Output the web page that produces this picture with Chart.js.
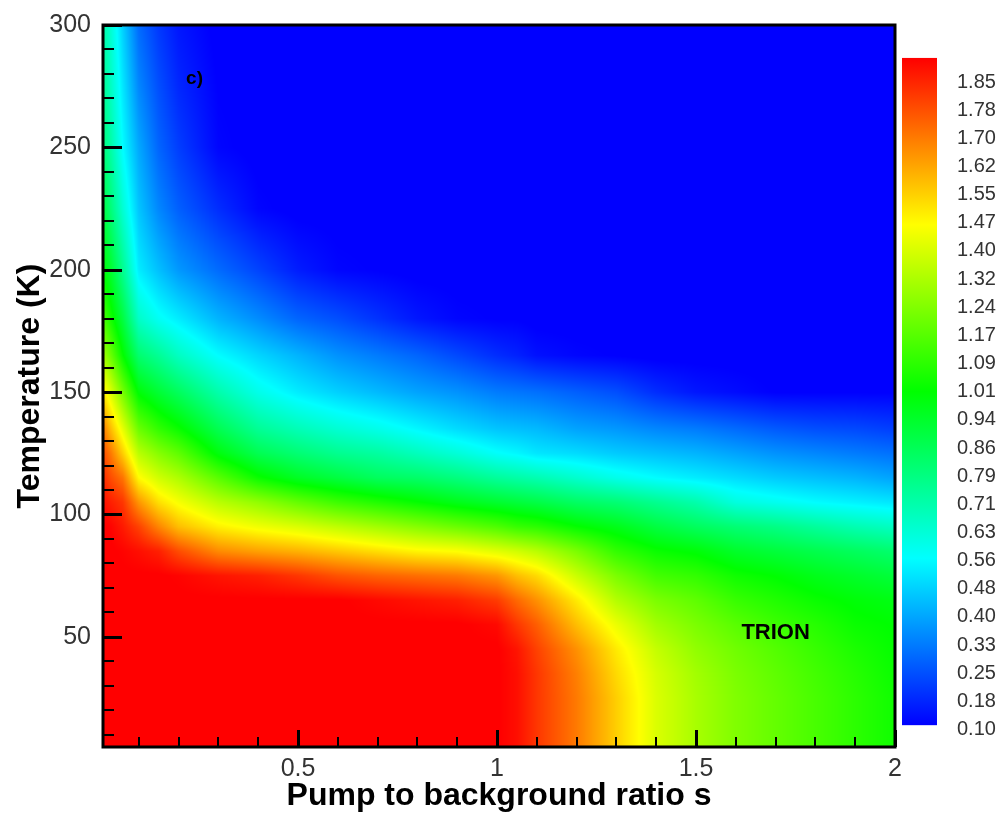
<!DOCTYPE html>
<html>
<head>
<meta charset="utf-8">
<title>Trion map</title>
<script src="https://cdn.jsdelivr.net/npm/chart.js@4.4.1/dist/chart.umd.min.js"></script>
<style>
  html, body { margin: 0; padding: 0; background: #ffffff; }
  canvas { display: block; }
</style>
</head>
<body>
<canvas id="map" width="1006" height="817"></canvas>
<script>
// Pump to background ratio s (grid columns)
const S_VALUES = [0.01, 0.03, 0.06, 0.1, 0.15, 0.2, 0.3, 0.4, 0.5, 0.6, 0.7, 0.8, 0.9, 1.0, 1.05, 1.1, 1.2, 1.3, 1.4, 1.5, 1.6, 1.7, 1.8, 1.9, 2.0];

// Temperature in K (grid rows)
const T_VALUES = [5, 15, 25, 35, 45, 55, 65, 75, 85, 95, 105, 115, 125, 135, 150, 165, 180, 200, 225, 250, 275, 300];

// Trion signal, one row per temperature, one entry per s column
const TRION_MAP = [
  [1.92,1.92,1.92,1.92,1.92,1.92,1.92,1.92,1.92,1.92,1.92,1.92,1.92,1.92,1.89,1.82,1.70,1.55,1.40,1.31,1.24,1.19,1.14,1.09,1.04], // 5 K
  [1.92,1.92,1.92,1.92,1.92,1.92,1.92,1.92,1.92,1.92,1.92,1.92,1.92,1.92,1.89,1.82,1.70,1.55,1.40,1.31,1.24,1.19,1.14,1.09,1.04], // 15 K
  [1.92,1.92,1.92,1.92,1.92,1.92,1.92,1.92,1.92,1.92,1.92,1.92,1.92,1.92,1.89,1.82,1.70,1.55,1.40,1.31,1.24,1.19,1.14,1.09,1.04], // 25 K
  [1.92,1.92,1.92,1.92,1.92,1.92,1.92,1.92,1.92,1.92,1.92,1.92,1.92,1.92,1.89,1.82,1.69,1.53,1.39,1.30,1.23,1.18,1.13,1.08,1.03], // 35 K
  [1.92,1.92,1.92,1.92,1.92,1.92,1.92,1.92,1.92,1.92,1.92,1.92,1.92,1.92,1.88,1.80,1.66,1.50,1.36,1.27,1.21,1.16,1.11,1.06,1.02], // 45 K
  [1.92,1.92,1.92,1.92,1.92,1.92,1.92,1.92,1.92,1.92,1.92,1.92,1.92,1.90,1.82,1.75,1.58,1.43,1.30,1.23,1.17,1.12,1.08,1.03,1.01], // 55 K
  [1.92,1.92,1.92,1.92,1.92,1.92,1.92,1.92,1.92,1.92,1.90,1.88,1.86,1.81,1.73,1.66,1.50,1.33,1.23,1.18,1.11,1.07,1.03,1.00,0.98], // 65 K
  [1.92,1.92,1.92,1.92,1.92,1.91,1.88,1.86,1.82,1.77,1.74,1.72,1.70,1.65,1.58,1.53,1.37,1.23,1.13,1.10,1.04,1.01,0.97,0.94,0.91], // 75 K
  [1.92,1.92,1.91,1.89,1.86,1.78,1.67,1.63,1.60,1.56,1.52,1.48,1.46,1.41,1.38,1.34,1.23,1.10,1.03,1.00,0.94,0.91,0.88,0.85,0.82], // 85 K
  [1.92,1.91,1.87,1.80,1.68,1.58,1.49,1.44,1.40,1.35,1.30,1.25,1.20,1.15,1.11,1.09,1.02,0.97,0.90,0.85,0.81,0.78,0.74,0.70,0.67], // 95 K
  [1.89,1.86,1.82,1.65,1.52,1.45,1.34,1.27,1.19,1.12,1.07,1.02,0.97,0.93,0.91,0.89,0.84,0.81,0.76,0.71,0.62,0.59,0.56,0.54,0.52], // 105 K
  [1.84,1.78,1.71,1.47,1.38,1.32,1.17,1.03,0.95,0.90,0.85,0.83,0.79,0.74,0.72,0.70,0.65,0.60,0.56,0.53,0.50,0.47,0.45,0.43,0.40], // 115 K
  [1.78,1.70,1.55,1.34,1.25,1.18,0.99,0.87,0.81,0.76,0.73,0.68,0.63,0.57,0.55,0.52,0.50,0.47,0.45,0.43,0.40,0.37,0.35,0.33,0.31], // 125 K
  [1.70,1.58,1.42,1.20,1.10,1.03,0.87,0.75,0.69,0.64,0.60,0.55,0.50,0.46,0.45,0.44,0.40,0.38,0.35,0.33,0.30,0.27,0.25,0.24,0.22], // 135 K
  [1.50,1.40,1.22,1.00,0.92,0.85,0.71,0.60,0.53,0.48,0.44,0.40,0.37,0.33,0.32,0.31,0.28,0.25,0.19,0.15,0.13,0.11,0.11,0.11,0.11], // 150 K
  [1.30,1.20,1.02,0.82,0.75,0.67,0.56,0.49,0.43,0.37,0.33,0.29,0.24,0.19,0.17,0.14,0.12,0.11,0.10,0.10,0.10,0.10,0.10,0.10,0.10], // 165 K
  [1.15,1.05,0.90,0.66,0.58,0.53,0.43,0.36,0.29,0.25,0.20,0.15,0.12,0.11,0.11,0.10,0.10,0.10,0.10,0.10,0.10,0.10,0.10,0.10,0.10], // 180 K
  [1.00,0.93,0.76,0.53,0.45,0.38,0.30,0.23,0.16,0.12,0.11,0.10,0.10,0.10,0.10,0.10,0.10,0.10,0.10,0.10,0.10,0.10,0.10,0.10,0.10], // 200 K
  [0.90,0.80,0.64,0.46,0.35,0.28,0.19,0.12,0.10,0.10,0.10,0.10,0.10,0.10,0.10,0.10,0.10,0.10,0.10,0.10,0.10,0.10,0.10,0.10,0.10], // 225 K
  [0.80,0.72,0.56,0.41,0.29,0.22,0.12,0.10,0.10,0.10,0.10,0.10,0.10,0.10,0.10,0.10,0.10,0.10,0.10,0.10,0.10,0.10,0.10,0.10,0.10], // 250 K
  [0.76,0.67,0.52,0.35,0.25,0.18,0.11,0.10,0.10,0.10,0.10,0.10,0.10,0.10,0.10,0.10,0.10,0.10,0.10,0.10,0.10,0.10,0.10,0.10,0.10], // 275 K
  [0.72,0.64,0.48,0.30,0.21,0.15,0.10,0.10,0.10,0.10,0.10,0.10,0.10,0.10,0.10,0.10,0.10,0.10,0.10,0.10,0.10,0.10,0.10,0.10,0.10]  // 300 K
];

// Axis tick labels
const X_TICKS = [0.5, 1, 1.5, 2];
const Y_TICKS = [50, 100, 150, 200, 250, 300];

// Contour legend levels, top to bottom
const LEVEL_LABELS = ['1.85', '1.78', '1.70', '1.62', '1.55', '1.47', '1.40', '1.32', '1.24', '1.17', '1.09', '1.01', '0.94', '0.86', '0.79', '0.71', '0.63', '0.56', '0.48', '0.40', '0.33', '0.25', '0.18', '0.10'];

// Colour range of the flood map: blue -> cyan -> green -> yellow -> red
const C_MIN = 0.112;
const C_MAX = 1.915;
const RAINBOW = [[0, 0, 255], [0, 255, 255], [0, 255, 0], [255, 255, 0], [255, 0, 0]];

const FONT = "'Liberation Sans', Arial, sans-serif";

// legend levels are equally spaced between the first and the last label
const LEVEL_TOP = parseFloat(LEVEL_LABELS[0]);
const LEVEL_BOTTOM = parseFloat(LEVEL_LABELS[LEVEL_LABELS.length - 1]);
const LEVEL_STEP = (LEVEL_TOP - LEVEL_BOTTOM) / (LEVEL_LABELS.length - 1);

function rainbow(v) {
  let t = (v - C_MIN) / (C_MAX - C_MIN);
  if (t < 0) t = 0; if (t > 1) t = 1;
  const p = t * 4;
  const k = Math.min(3, Math.floor(p));
  const f = p - k;
  const a = RAINBOW[k], b = RAINBOW[k + 1];
  return [a[0] + (b[0] - a[0]) * f, a[1] + (b[1] - a[1]) * f, a[2] + (b[2] - a[2]) * f];
}

function locate(grid, v) {
  const n = grid.length;
  if (v <= grid[0]) return [0, 0];
  if (v >= grid[n - 1]) return [n - 2, 1];
  let i = 0;
  while (grid[i + 1] < v) i++;
  return [i, (v - grid[i]) / (grid[i + 1] - grid[i])];
}

function zeroPadding(scale) {
  scale.paddingLeft = 0; scale.paddingRight = 0;
  scale.paddingTop = 0; scale.paddingBottom = 0;
}

// Shaded field, colour legend, frame, inward ticks and text labels
const floodPlugin = {
  id: 'flood',
  beforeDatasetsDraw(chart) {
    const { ctx, chartArea: a, scales: { x, y } } = chart;
    const left = Math.round(a.left), top = Math.round(a.top);
    const w = Math.round(a.right) - left, h = Math.round(a.bottom) - top;
    const img = ctx.createImageData(w, h);
    const colI = new Int32Array(w), colF = new Float32Array(w);
    for (let px = 0; px < w; px++) {
      const r = locate(S_VALUES, x.getValueForPixel(left + px + 0.5));
      colI[px] = r[0]; colF[px] = r[1];
    }
    for (let py = 0; py < h; py++) {
      const [j, fy] = locate(T_VALUES, y.getValueForPixel(top + py + 0.5));
      const r0 = TRION_MAP[j], r1 = TRION_MAP[j + 1];
      for (let px = 0; px < w; px++) {
        const i = colI[px], fx = colF[px];
        const v = (r0[i] * (1 - fx) + r0[i + 1] * fx) * (1 - fy) + (r1[i] * (1 - fx) + r1[i + 1] * fx) * fy;
        const c = rainbow(v);
        const o = (py * w + px) * 4;
        img.data[o] = c[0]; img.data[o + 1] = c[1]; img.data[o + 2] = c[2]; img.data[o + 3] = 255;
      }
    }
    ctx.putImageData(img, left, top);
  },
  afterDraw(chart, args, opts) {
    const { ctx, chartArea: a, scales: { x, y, cb } } = chart;
    ctx.save();

    // colour legend bar
    const yTop = cb.getPixelForValue(C_MAX), yBot = cb.getPixelForValue(C_MIN);
    const g = ctx.createLinearGradient(0, yBot, 0, yTop);
    RAINBOW.forEach((c, k) => g.addColorStop(k / 4, `rgb(${c[0]},${c[1]},${c[2]})`));
    ctx.fillStyle = g;
    ctx.fillRect(a.right + 7, yTop, 35, yBot - yTop);

    // inward tick marks
    ctx.strokeStyle = '#000';
    ctx.lineCap = 'butt';
    ctx.lineWidth = 2;
    ctx.beginPath();
    for (let k = 1; k < 30; k++) {
      if (k % 5 === 0) continue;
      const py = Math.round(y.getPixelForValue(k * 10));
      ctx.moveTo(a.left, py); ctx.lineTo(a.left + 11, py);
    }
    for (let k = 1; k < 20; k++) {
      if (k % 5 === 0) continue;
      const px = Math.round(x.getPixelForValue(k / 10));
      ctx.moveTo(px, a.bottom); ctx.lineTo(px, a.bottom - 10);
    }
    ctx.stroke();
    ctx.lineWidth = 3;
    ctx.beginPath();
    Y_TICKS.forEach(v => {
      const py = Math.round(y.getPixelForValue(v)) + 0.5;
      ctx.moveTo(a.left, py); ctx.lineTo(a.left + 19, py);
    });
    X_TICKS.forEach(v => {
      const px = Math.round(x.getPixelForValue(v)) + 0.5;
      ctx.moveTo(px, a.bottom); ctx.lineTo(px, a.bottom - 17);
    });
    ctx.stroke();

    // frame
    ctx.lineWidth = 3;
    ctx.strokeRect(a.left, a.top, a.right - a.left, a.bottom - a.top);

    // labels inside the plot
    ctx.fillStyle = '#000';
    ctx.textAlign = 'center';
    ctx.textBaseline = 'middle';
    opts.notes.forEach(n => {
      ctx.font = `bold ${n.size}px ${FONT}`;
      ctx.fillText(n.text, x.getPixelForValue(n.s), y.getPixelForValue(n.t));
    });
    ctx.restore();
  }
};

const gridPoints = [];
T_VALUES.forEach((t, j) => S_VALUES.forEach((s, i) => gridPoints.push({ x: s, y: t, v: TRION_MAP[j][i] })));

new Chart(document.getElementById('map'), {
  type: 'scatter',
  data: {
    datasets: [{
      label: 'Trion',
      data: gridPoints,
      pointRadius: 0,
      pointHoverRadius: 0,
      showLine: false
    }]
  },
  options: {
    responsive: false,
    animation: false,
    events: [],
    layout: { padding: { top: 25, left: 0, right: 0, bottom: 0 } },
    plugins: {
      legend: { display: false },
      tooltip: { enabled: false },
      flood: {
        notes: [
          { text: 'c)', s: 0.24, t: 278, size: 19 },
          { text: 'TRION', s: 1.70, t: 51.5, size: 22 }
        ]
      }
    },
    scales: {
      x: {
        type: 'linear',
        position: 'bottom',
        min: 0.01,
        max: 2,
        afterBuildTicks: s => { s.ticks = X_TICKS.map(v => ({ value: v })); },
        afterFit: s => { s.height = 70; zeroPadding(s); },
        grid: { display: false, drawTicks: false },
        border: { display: false },
        ticks: {
          autoSkip: false, maxRotation: 0, padding: 7,
          color: '#333', font: { family: FONT, size: 25 },
          callback: v => String(v)
        },
        title: {
          display: true, text: 'Pump to background ratio s', color: '#000',
          font: { family: FONT, size: 32, weight: 'bold' },
          padding: { top: 0, bottom: 2 }
        }
      },
      y: {
        type: 'linear',
        position: 'left',
        min: 5,
        max: 300,
        afterBuildTicks: s => { s.ticks = Y_TICKS.map(v => ({ value: v })); },
        afterFit: s => { s.width = 103; zeroPadding(s); },
        grid: { display: false, drawTicks: false },
        border: { display: false },
        ticks: {
          autoSkip: false, padding: 12,
          color: '#333', font: { family: FONT, size: 25 },
          callback: v => String(v)
        },
        title: {
          display: true, text: 'Temperature (K)', color: '#000',
          font: { family: FONT, size: 32, weight: 'bold' },
          padding: { top: 11, bottom: 0 }
        }
      },
      cb: {
        type: 'linear',
        axis: 'y',
        position: 'right',
        display: true,
        min: 0.053,
        max: 2.004,
        afterBuildTicks: s => { s.ticks = LEVEL_LABELS.map((t, k) => ({ value: LEVEL_TOP - k * LEVEL_STEP, label: t })); },
        afterFit: s => { s.width = 111; zeroPadding(s); },
        grid: { display: false, drawTicks: false },
        border: { display: false },
        ticks: {
          autoSkip: false, padding: 62,
          color: '#333', font: { family: FONT, size: 20 },
          callback: (v, k) => LEVEL_LABELS[k]
        }
      }
    }
  },
  plugins: [floodPlugin]
});
</script>
</body>
</html>
